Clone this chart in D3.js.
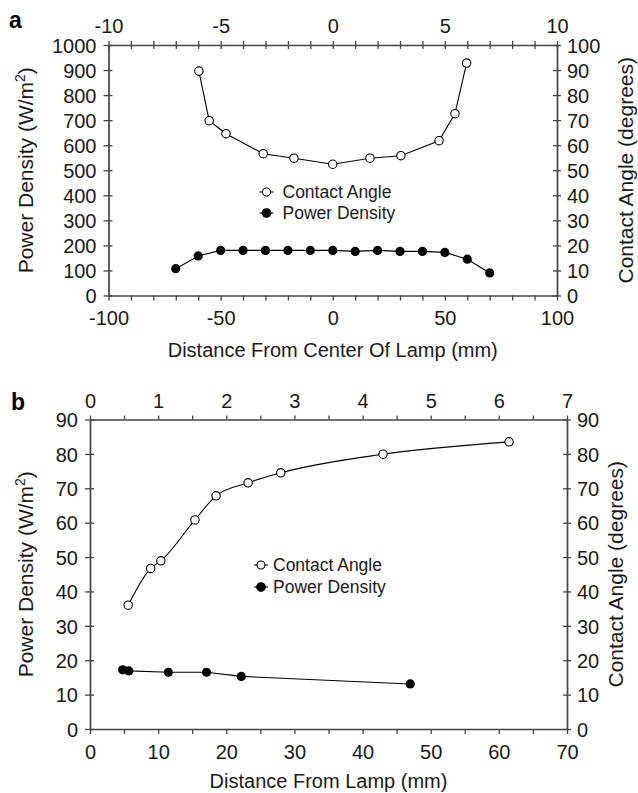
<!DOCTYPE html>
<html><head><meta charset="utf-8">
<script src="https://cdn.jsdelivr.net/npm/d3@7"></script>
<style>body{margin:0;background:#fff}svg{display:block}</style>
</head><body><svg id="c" width="638" height="793"></svg>
<script>
// ---------- Panel a data ----------
const aContactX = [-5.97, -5.51, -4.76, -3.10, -1.73, 0, 1.66, 3.04, 4.74, 5.45, 5.97]; // top axis
const aContactY = [89.6, 69.8, 64.6, 56.6, 54.8, 52.4, 54.8, 55.8, 61.8, 72.6, 92.8];   // degrees
const aPowerX = [-70, -60, -50, -40, -30, -20, -10, 0, 10, 20, 30, 40, 50, 60, 70];     // mm
const aPowerY = [107, 158, 180, 180, 180, 180, 180, 180, 176, 180, 176, 176, 172, 145, 90]; // W/m2
// ---------- Panel b data ----------
const bContactX = [0.56, 0.89, 1.04, 1.54, 1.85, 2.32, 2.80, 4.30, 6.15];
const bContactY = [36, 46.7, 48.9, 60.8, 67.8, 71.6, 74.5, 79.9, 83.5];
const bPowerX = [4.8, 5.7, 11.5, 17.1, 22.2, 47.0];
const bPowerY = [17.2, 16.9, 16.5, 16.5, 15.3, 13.1];
// ---------- Axis ticks ----------
const aTopTicks = d3.range(-10, 11, 1), aTopLabels = [-10, -5, 0, 5, 10];
const aBottomTicks = d3.range(-100, 101, 10), aBottomLabels = [-100, -50, 0, 50, 100];
const aLeftTicks = d3.range(0, 1001, 100), aRightTicks = d3.range(0, 101, 10);
const bTopTicks = d3.range(0, 7.01, 0.5), bTopLabels = [0, 1, 2, 3, 4, 5, 6, 7];
const bBottomTicks = d3.range(0, 71, 5), bBottomLabels = [0, 10, 20, 30, 40, 50, 60, 70];
const bLeftTicks = d3.range(0, 91, 10), bRightTicks = d3.range(0, 91, 10);
const legendLabels = ["Contact Angle", "Power Density"];

const FONT = '"Liberation Sans", Arial, Helvetica, sans-serif';
const AX = "#444", TXT = "#1a1a1a";
const svg = d3.select("#c");

function drawAxis(orient, scale, pos, ticks, labels, cfg) {
  const gen = {top: d3.axisTop, bottom: d3.axisBottom, left: d3.axisLeft, right: d3.axisRight}[orient](scale)
    .tickValues(ticks).tickFormat(d => labels.includes(d) ? String(d) : "")
    .tickSizeOuter(0).tickSizeInner(4);
  const horiz = orient === "top" || orient === "bottom";
  const ax = svg.append("g")
    .attr("transform", horiz ? `translate(0,${pos})` : `translate(${pos},0)`)
    .call(gen)
    .attr("font-family", FONT).attr("font-size", 20);
  ax.select(".domain").attr("stroke", AX).attr("stroke-width", 1.7);
  const ln = ax.selectAll(".tick line").attr("stroke", AX).attr("stroke-width", 1.3);
  const tx = ax.selectAll(".tick text").attr("fill", TXT);
  if (orient === "left") { ln.attr("x1", -cfg.out).attr("x2", cfg.inn); tx.attr("x", -cfg.gap).attr("dy", "0.36em"); }
  if (orient === "right") { ln.attr("x1", -cfg.inn).attr("x2", cfg.out); tx.attr("x", cfg.gap).attr("dy", "0.36em"); }
  if (orient === "top") { ln.attr("y1", -cfg.out).attr("y2", cfg.inn); tx.attr("y", -cfg.gap).attr("dy", 0); }
  if (orient === "bottom") { ln.attr("y1", -cfg.inn).attr("y2", cfg.out); tx.attr("y", cfg.gap).attr("dy", 0); }
}

function panel(P) {
  const xTop = d3.scaleLinear().domain(P.topDom).range([P.L, P.R]);
  const xBot = d3.scaleLinear().domain(P.botDom).range([P.L, P.R]);
  const yL = d3.scaleLinear().domain(P.leftDom).range([P.B, P.T]);
  const yR = d3.scaleLinear().domain(P.rightDom).range([P.B, P.T]);

  drawAxis("top", xTop, P.T, P.topTicks, P.topLabels, {out: 4, inn: P.topInn, gap: 12});
  drawAxis("bottom", xBot, P.B, P.botTicks, P.botLabels, {out: 5, inn: 0, gap: 29.5});
  drawAxis("left", yL, P.L, P.leftTicks, P.leftTicks, {out: 5, inn: 4, gap: P.leftGap});
  drawAxis("right", yR, P.R, P.rightTicks, P.rightTicks, {out: 4, inn: 4, gap: 10});

  // panel letter
  svg.append("text").attr("x", P.letterX).attr("y", P.letterY).attr("font-family", FONT)
    .attr("font-weight", "bold").attr("font-size", 23).attr("fill", "#000").text(P.letter);

  // axis titles
  const lt = svg.append("text").attr("transform", `translate(${P.leftTitleX},${(P.T + P.B) / 2}) rotate(-90)`)
    .attr("text-anchor", "middle").attr("font-family", FONT).attr("font-size", 21).attr("fill", TXT);
  lt.append("tspan").text("Power Density (W/m");
  lt.append("tspan").attr("font-size", 14).attr("dy", -8).text("2");
  lt.append("tspan").attr("dy", 8).text(")");
  svg.append("text").attr("transform", `translate(${P.rightTitleX},${(P.T + P.B) / 2}) rotate(-90)`)
    .attr("text-anchor", "middle").attr("font-family", FONT).attr("font-size", 21).attr("fill", TXT)
    .text("Contact Angle (degrees)");
  svg.append("text").attr("x", (P.L + P.R) / 2).attr("y", P.xTitleY).attr("text-anchor", "middle")
    .attr("font-family", FONT).attr("font-size", 20).attr("fill", TXT).text(P.xTitle);

  // contact angle series (top x, right y)
  const ca = P.caX.map((x, i) => [xTop(x), yR(P.caY[i])]);
  svg.append("path").attr("d", d3.line().curve(P.caCurve)(ca)).attr("fill", "none")
    .attr("stroke", "#000").attr("stroke-width", 1.1);
  // power density series (bottom x, left y)
  const pd = P.pdX.map((x, i) => [xBot(x), yL(P.pdY[i])]);
  svg.append("path").attr("d", d3.line()(pd)).attr("fill", "none")
    .attr("stroke", "#000").attr("stroke-width", 1.1);
  svg.append("g").selectAll("circle").data(ca).join("circle")
    .attr("cx", d => d[0]).attr("cy", d => d[1]).attr("r", 4.2)
    .attr("fill", "#fff").attr("stroke", "#000").attr("stroke-width", 1.1);
  svg.append("g").selectAll("circle").data(pd).join("circle")
    .attr("cx", d => d[0]).attr("cy", d => d[1]).attr("r", 4.6).attr("fill", "#000");

  // legend
  legendLabels.forEach((lab, i) => {
    const cy = P.legY[i];
    svg.append("line").attr("x1", P.legX - 7).attr("x2", P.legX + 7).attr("y1", cy).attr("y2", cy)
      .attr("stroke", "#000").attr("stroke-width", 1.1);
    svg.append("circle").attr("cx", P.legX).attr("cy", cy).attr("r", i === 0 ? 4 : 4.3)
      .attr("fill", i === 0 ? "#fff" : "#000").attr("stroke", "#000").attr("stroke-width", 1.1);
    svg.append("text").attr("x", P.legX + P.legGap).attr("y", cy + 6).attr("font-family", FONT)
      .attr("font-size", 17.5).attr("fill", TXT).text(lab);
  });
}

panel({
  L: 108.5, R: 557, T: 45, B: 295.5,
  topDom: [-10, 10], botDom: [-100, 100], leftDom: [0, 1000], rightDom: [0, 100],
  topTicks: aTopTicks, topLabels: aTopLabels, topInn: 4,
  botTicks: aBottomTicks, botLabels: aBottomLabels,
  leftTicks: aLeftTicks, rightTicks: aRightTicks, leftGap: 12,
  letter: "a", letterX: 9, letterY: 28,
  leftTitleX: 32.5, rightTitleX: 633, xTitleY: 357, xTitle: "Distance From Center Of Lamp (mm)",
  caX: aContactX, caY: aContactY, caCurve: d3.curveLinear,
  pdX: aPowerX, pdY: aPowerY,
  legX: 266.5, legY: [192, 213], legGap: 16
});
panel({
  L: 90, R: 567, T: 419.5, B: 729,
  topDom: [0, 7], botDom: [0, 70], leftDom: [0, 90], rightDom: [0, 90],
  topTicks: bTopTicks, topLabels: bTopLabels, topInn: 0,
  botTicks: bBottomTicks, botLabels: bBottomLabels,
  leftTicks: bLeftTicks, rightTicks: bRightTicks, leftGap: 12,
  letter: "b", letterX: 11, letterY: 410,
  leftTitleX: 33, rightTitleX: 623, xTitleY: 788, xTitle: "Distance From Lamp (mm)",
  caX: bContactX, caY: bContactY, caCurve: d3.curveMonotoneX,
  pdX: bPowerX, pdY: bPowerY,
  legX: 261, legY: [565, 587], legGap: 12
});
</script></body></html>
